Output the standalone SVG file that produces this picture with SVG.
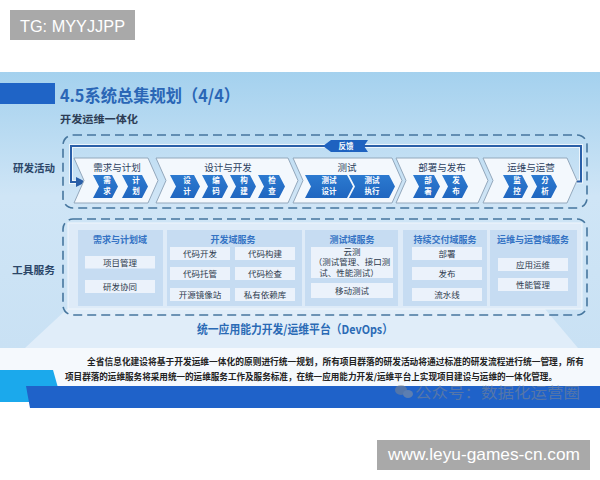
<svg xmlns="http://www.w3.org/2000/svg" width="600" height="480" viewBox="0 0 600 480">
<defs>
<linearGradient id="bg" x1="0" y1="0" x2="0" y2="1">
<stop offset="0" stop-color="#a4d1ee"/>
<stop offset="0.45" stop-color="#cfe5f6"/>
<stop offset="1" stop-color="#c9e1f4"/>
</linearGradient>
<linearGradient id="sm" x1="0" y1="0" x2="0" y2="1">
<stop offset="0" stop-color="#2c7ad0"/>
<stop offset="1" stop-color="#1f66c0"/>
</linearGradient>
<marker id="ah" viewBox="0 0 10 10" refX="9" refY="5" markerWidth="5" markerHeight="5" orient="auto">
<path d="M0,0 L10,5 L0,10 z" fill="#2a5fa8"/>
</marker>
<style>
.cjk{font-family:"Noto Sans CJK SC","Noto Sans",sans-serif}
.lbl{font-size:10.5px;font-weight:bold;fill:#2b4668}
.bigc{fill:#f3f8fd;stroke:#93a8bc;stroke-width:1}
.smc{fill:url(#sm)}
.sct{fill:#ffffff;font-size:7.5px;font-weight:bold;text-anchor:middle}
.bct{fill:#2c3f5e;font-size:9.5px;text-anchor:middle}
.dash{fill:none;stroke:#46769e;stroke-width:1.6;stroke-dasharray:9 5}
.col{fill:#c6dcf2}
.item{fill:#ebf2fb}
.ct{fill:#3473c4;font-size:9px;font-weight:bold;text-anchor:middle}
.it{fill:#2d3a4d;font-size:8.5px;text-anchor:middle}
.wm{font-family:"Liberation Sans",Arial,sans-serif;fill:#ffffff}
</style>
</defs>
<rect x="0" y="0" width="600" height="480" fill="#ffffff"/>
<g id="tg"><rect x="10" y="10" width="125" height="30" fill="#a9a9a9"/><text class="wm" x="20" y="32" font-size="17" textLength="105" lengthAdjust="spacingAndGlyphs">TG: MYYJJPP</text></g>
<g id="panel">
<rect x="0" y="72" width="600" height="276" fill="url(#bg)"/>
<polygon points="67,309 545,309 578,348 25,348" fill="#e0edf9"/>
<rect x="0" y="348" width="600" height="40" fill="#f5f9fd"/>
<rect x="0" y="83" width="55" height="21" fill="#1f64c6"/>
<text class="cjk" x="60" y="102" font-size="17" font-weight="bold" fill="#2a66b6" textLength="180" lengthAdjust="spacingAndGlyphs">4.5系统总集规划（4/4）</text>
<text class="cjk" x="60" y="123" font-size="10.5" font-weight="bold" fill="#2d3d55" textLength="78" lengthAdjust="spacingAndGlyphs">开发运维一体化</text>
</g>
<g id="label-rd"><text class="cjk lbl" x="13" y="172" textLength="42" lengthAdjust="spacingAndGlyphs">研发活动</text></g>
<g id="label-tools"><text class="cjk lbl" x="12" y="274" textLength="43" lengthAdjust="spacingAndGlyphs">工具服务</text></g>
<g id="rd-box"><rect class="dash" x="63" y="135" width="524" height="73" rx="10"/></g>
<g id="connectors">
<path d="M577,181.5 L581,181.5 L581,146 L71,146 L71,182 L85,182" fill="none" stroke="#ffffff" stroke-width="4" opacity="0.7"/>
<path d="M577,181.5 L581,181.5 L581,146 L71,146 L71,182 L85,182" fill="none" stroke="#2a5fa8" stroke-width="2" marker-end="url(#ah)"/>
<g id="feedback"><polygon points="323,146 331,140 368,140 364,146 368,152 331,152" fill="#1e62c0"/><text class="cjk sct" x="346" y="149" font-size="7.5">反馈</text></g>
</g>
<g id="stage1">
<polygon class="bigc" points="74,158 148,158 158,180.5 148,203 74,203 84,180.5"/>
<text class="cjk bct" x="117" y="171">需求与计划</text>
<polygon class="smc" points="93,175 112,175 118,186.5 112,198 93,198 99,186.5"/>
<text class="cjk sct" x="107" y="183">需</text><text class="cjk sct" x="107" y="194">求</text>
<polygon class="smc" points="122,175 142,175 148,186.5 142,198 122,198 128,186.5"/>
<text class="cjk sct" x="136" y="183">计</text><text class="cjk sct" x="136" y="194">划</text>
</g>
<g id="stage2">
<polygon class="bigc" points="156,158 288,158 298,180.5 288,203 156,203 166,180.5"/>
<text class="cjk bct" x="228" y="171">设计与开发</text>
<polygon class="smc" points="170,175 194,175 200,186.5 194,198 170,198 176,186.5"/>
<text class="cjk sct" x="187" y="183">设</text><text class="cjk sct" x="187" y="194">计</text>
<polygon class="smc" points="202,175 222,175 228,186.5 222,198 202,198 208,186.5"/>
<text class="cjk sct" x="216" y="183">编</text><text class="cjk sct" x="216" y="194">码</text>
<polygon class="smc" points="230,175 250,175 256,186.5 250,198 230,198 236,186.5"/>
<text class="cjk sct" x="244" y="183">构</text><text class="cjk sct" x="244" y="194">建</text>
<polygon class="smc" points="258,175 279,175 285,186.5 279,198 258,198 264,186.5"/>
<text class="cjk sct" x="272" y="183">检</text><text class="cjk sct" x="272" y="194">查</text>
</g>
<g id="stage3">
<polygon class="bigc" points="293,158 392,158 402,180.5 392,203 293,203 303,180.5"/>
<text class="cjk bct" x="347" y="171">测试</text>
<polygon class="smc" points="305,175 347,175 353,186.5 347,198 305,198 311,186.5"/>
<text class="cjk sct" x="329" y="183">测试</text><text class="cjk sct" x="329" y="194">设计</text>
<polygon class="smc" points="349,175 389,175 395,186.5 389,198 349,198 355,186.5"/>
<text class="cjk sct" x="372" y="183">测试</text><text class="cjk sct" x="372" y="194">执行</text>
</g>
<g id="stage4">
<polygon class="bigc" points="396,158 478,158 488,180.5 478,203 396,203 406,180.5"/>
<text class="cjk bct" x="442" y="171">部署与发布</text>
<polygon class="smc" points="413,175 434,175 440,186.5 434,198 413,198 419,186.5"/>
<text class="cjk sct" x="428" y="183">部</text><text class="cjk sct" x="428" y="194">署</text>
<polygon class="smc" points="442,175 462,175 468,186.5 462,198 442,198 448,186.5"/>
<text class="cjk sct" x="456" y="183">发</text><text class="cjk sct" x="456" y="194">布</text>
</g>
<g id="stage5">
<polygon class="bigc" points="483,158 567,158 577,180.5 567,203 483,203 493,180.5"/>
<text class="cjk bct" x="531" y="171">运维与运营</text>
<polygon class="smc" points="503,175 522,175 528,186.5 522,198 503,198 509,186.5"/>
<text class="cjk sct" x="517" y="183">监</text><text class="cjk sct" x="517" y="194">控</text>
<polygon class="smc" points="531,175 551,175 557,186.5 551,198 531,198 537,186.5"/>
<text class="cjk sct" x="545" y="183">分</text><text class="cjk sct" x="545" y="194">析</text>
</g>
<g id="tools-box">
<rect class="dash" x="63" y="219" width="524" height="96" rx="10"/>
<rect x="68" y="223" width="514" height="86" fill="#deebf8" stroke="#f0f6fc" stroke-width="1"/>
</g>
<g id="col-plan">
<rect class="col" x="78" y="230" width="85" height="76"/>
<text class="cjk ct" x="120" y="243">需求与计划域</text>
<rect class="item" x="85" y="256" width="70" height="12.5"/><text class="cjk it" x="120" y="265.5">项目管理</text>
<rect class="item" x="85" y="280" width="70" height="13"/><text class="cjk it" x="120" y="289.5">研发协同</text>
</g>
<g id="col-dev">
<rect class="col" x="167" y="230" width="135" height="76"/>
<text class="cjk ct" x="233" y="243">开发域服务</text>
<rect class="item" x="170" y="247" width="60" height="13"/><text class="cjk it" x="200" y="256.5">代码开发</text>
<rect class="item" x="235" y="247" width="60" height="13"/><text class="cjk it" x="265" y="256.5">代码构建</text>
<rect class="item" x="170" y="267" width="60" height="13"/><text class="cjk it" x="200" y="276.5">代码托管</text>
<rect class="item" x="235" y="267" width="60" height="13"/><text class="cjk it" x="265" y="276.5">代码检查</text>
<rect class="item" x="170" y="288" width="60" height="13"/><text class="cjk it" x="200" y="297.5">开源镜像站</text>
<rect class="item" x="235" y="288" width="60" height="13"/><text class="cjk it" x="265" y="297.5">私有依赖库</text>
</g>
<g id="col-test">
<rect class="col" x="305" y="230" width="93" height="76"/>
<text class="cjk ct" x="352" y="243">测试域服务</text>
<rect class="item" x="311" y="247" width="82" height="31"/>
<text class="cjk it" x="352" y="254.5" font-size="8">云测</text>
<text class="cjk it" x="352" y="265" font-size="8">（测试管理、接口测</text>
<text class="cjk it" x="349" y="276" font-size="8">试、性能测试）</text>
<rect class="item" x="311" y="283" width="82" height="15"/><text class="cjk it" x="352" y="293.5">移动测试</text>
</g>
<g id="col-cd">
<rect class="col" x="403" y="230" width="84" height="76"/>
<text class="cjk ct" x="445" y="243">持续交付域服务</text>
<rect class="item" x="412" y="247" width="70" height="13"/><text class="cjk it" x="447" y="256.5">部署</text>
<rect class="item" x="412" y="267" width="70" height="13"/><text class="cjk it" x="447" y="276.5">发布</text>
<rect class="item" x="412" y="288" width="70" height="13"/><text class="cjk it" x="447" y="297.5">流水线</text>
</g>
<g id="col-ops">
<rect class="col" x="490" y="230" width="87" height="76"/>
<text class="cjk ct" x="533" y="243">运维与运营域服务</text>
<rect class="item" x="498" y="258" width="70" height="13"/><text class="cjk it" x="533" y="267.5">应用运维</text>
<rect class="item" x="498" y="278" width="70" height="13"/><text class="cjk it" x="533" y="287.5">性能管理</text>
</g>
<g id="platform-label"><text class="cjk" x="197" y="334" font-size="12" font-weight="bold" fill="#2a6ab5" textLength="196" lengthAdjust="spacingAndGlyphs">统一应用能力开发/运维平台（DevOps）</text></g>
<g id="desc">
<text class="cjk" x="87" y="365" font-size="8.6" font-weight="bold" fill="#222222" textLength="497" lengthAdjust="spacingAndGlyphs">全省信息化建设将基于开发运维一体化的原则进行统一规划，所有项目群落的研发活动将通过标准的研发流程进行统一管理，所有</text>
<text class="cjk" x="65" y="380" font-size="8.6" font-weight="bold" fill="#222222" textLength="492" lengthAdjust="spacingAndGlyphs">项目群落的运维服务将采用统一的运维服务工作及服务标准，在统一应用能力开发/运维平台上实现项目建设与运维的一体化管理。</text>
</g>
<g id="footer-band">
<polygon points="0,370 53,370 62,402 0,402" fill="#1ba9ec"/>
<polygon points="26,386 600,386 600,408 30,408" fill="#1f62c9"/>
</g>
<g id="watermark" opacity="0.5">
<ellipse cx="401" cy="390" rx="6" ry="5" fill="#8a8a8a"/>
<ellipse cx="408" cy="394" rx="5" ry="4" fill="#9a9a9a"/>
<text class="cjk" x="415" y="398" font-size="15" fill="#8a8a8a" textLength="165" lengthAdjust="spacingAndGlyphs">公众号：数据化运营圈</text>
</g>
<g id="site"><rect x="377" y="440" width="213" height="30" fill="#a9a9a9"/><text class="wm" x="388" y="460" font-size="17" textLength="192" lengthAdjust="spacingAndGlyphs">www.leyu-games-cn.com</text></g>
</svg>
